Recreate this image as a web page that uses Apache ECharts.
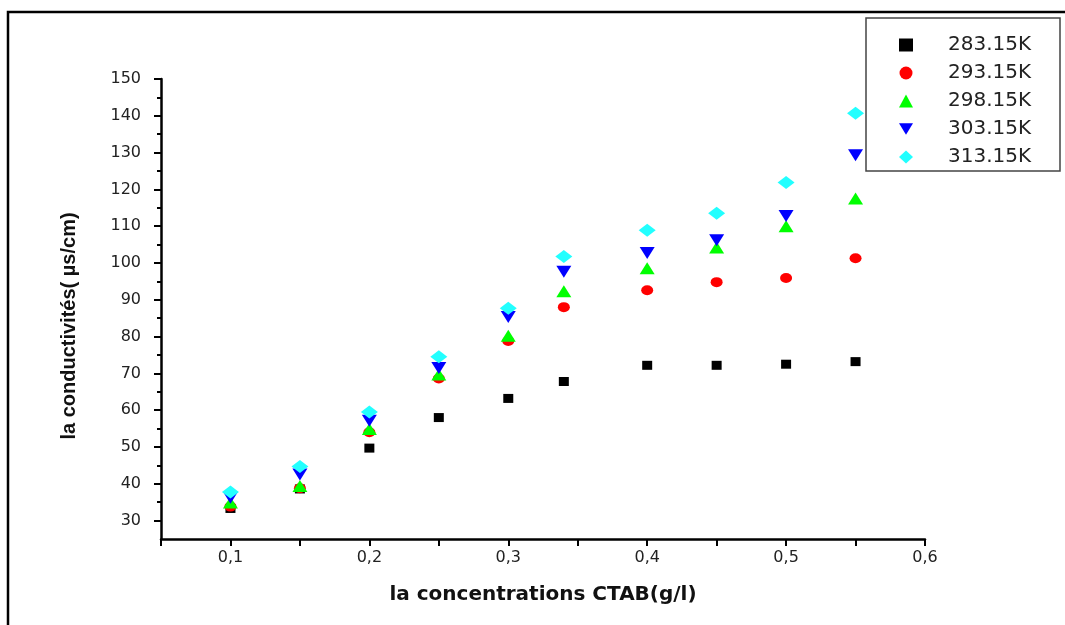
<!DOCTYPE html>
<html>
<head>
<meta charset="utf-8">
<script src="https://cdn.jsdelivr.net/npm/echarts@6/dist/echarts.min.js"></script>
<style>
  html, body { margin: 0; padding: 0; background: #fff; }
  #chart { width: 1065px; height: 625px; }
</style>
</head>
<body>
<div id="chart"></div>
<script>
// concentration CTAB (g/l)
const concentrations = [0.1, 0.15, 0.2, 0.25, 0.3, 0.34, 0.4, 0.45, 0.5, 0.55]
// conductivity (µs/cm) per temperature
const k283 = [33.3, 38.6, 49.7, 58.0, 63.2, 67.8, 72.2, 72.2, 72.5, 73.2]
const k293 = [33.8, 38.8, 54.0, 68.6, 78.8, 88.0, 92.6, 94.8, 95.9, 101.3]
const k298 = [34.9, 39.4, 54.9, 69.7, 80.2, 92.3, 98.6, 104.2, 110.0, 117.5]
const k303 = [36.2, 42.5, 57.1, 71.5, 85.3, 97.6, 102.7, 106.2, 112.8, 129.3]
const k313 = [37.8, 44.7, 59.5, 74.5, 87.7, 101.8, 108.9, 113.5, 121.9, 140.7]
const seriesNames = ['283.15K', '293.15K', '298.15K', '303.15K', '313.15K']

// tick labels
const xTicks = [0.05, 0.1, 0.15, 0.2, 0.25, 0.3, 0.35, 0.4, 0.45, 0.5, 0.55, 0.6]
const xLabels = [0.1, 0.2, 0.3, 0.4, 0.5, 0.6]
const yLabels = [30, 40, 50, 60, 70, 80, 90, 100, 110, 120, 130, 140, 150]
const yMinorTicks = [35, 45, 55, 65, 75, 85, 95, 105, 115, 125, 135, 145]

const pairs = vals => concentrations.map((c, i) => [c, vals[i]])

const chart = echarts.init(document.getElementById('chart'), null, { renderer: 'canvas' })

const labelFont = { fontFamily: 'DejaVu Sans', fontSize: 16, color: '#222' }

// inverted triangle for the legend of 303.15K
const downTriangle = 'path://M0,0 L12,0 L6,10 Z'

chart.setOption({
  backgroundColor: '#fff',
  animation: false,
  grid: { left: 161, right: 140, top: 79, bottom: 86 },
  graphic: [
    { type: 'rect', z: -10, shape: { x: 8, y: 12, width: 1200, height: 800 },
      style: { fill: 'none', stroke: '#000', lineWidth: 2.5 } },
    { type: 'rect', z: -10, shape: { x: 866, y: 18, width: 194, height: 153 },
      style: { fill: '#fff', stroke: '#444', lineWidth: 1.5 } }
  ],
  legend: {
    orient: 'vertical',
    left: 899,
    top: 35,
    padding: 0,
    itemWidth: 14,
    itemHeight: 13,
    itemGap: 8,
    symbolKeepAspect: true,
    textStyle: { fontFamily: 'DejaVu Sans', fontSize: 20, color: '#222', padding: [0, 0, 0, 30] },
    data: seriesNames.map((n, i) => (i === 3 ? { name: n, icon: downTriangle } : { name: n }))
  },
  xAxis: {
    type: 'value',
    min: 0.05,
    max: 0.6,
    name: 'la concentrations CTAB(g/l)',
    nameLocation: 'middle',
    nameGap: 46,
    nameTextStyle: { fontFamily: 'DejaVu Sans', fontWeight: 'bold', fontSize: 20, color: '#111' },
    axisLine: { lineStyle: { color: '#000', width: 2.5 } },
    axisTick: { customValues: xTicks, length: 7, lineStyle: { color: '#000', width: 2 } },
    axisLabel: {
      customValues: xLabels,
      margin: 11,
      ...labelFont,
      formatter: v => v.toFixed(1).replace('.', ',')
    },
    splitLine: { show: false }
  },
  yAxis: [
    {
      type: 'value',
      min: 25,
      max: 150,
      name: 'la conductivités( µs/cm)',
      nameLocation: 'middle',
      nameRotate: 90,
      nameGap: 82,
      nameTextStyle: {
        fontFamily: 'Liberation Sans', fontWeight: 'bold', fontSize: 20, color: '#111',
        padding: [0, 34, 0, 0]
      },
      axisLine: { lineStyle: { color: '#000', width: 2.5 } },
      axisTick: { customValues: yLabels, length: 7, lineStyle: { color: '#000', width: 2 } },
      axisLabel: { customValues: yLabels, margin: 20, ...labelFont },
      splitLine: { show: false }
    },
    {
      type: 'value',
      min: 25,
      max: 150,
      position: 'left',
      axisLine: { show: false },
      axisTick: { show: true, customValues: yMinorTicks, length: 4, lineStyle: { color: '#000', width: 2 } },
      axisLabel: { show: false },
      splitLine: { show: false }
    }
  ],
  series: [
    { name: seriesNames[0], type: 'scatter', symbol: 'rect', symbolSize: [10, 9],
      itemStyle: { color: '#000', opacity: 1 }, data: pairs(k283) },
    { name: seriesNames[1], type: 'scatter', symbol: 'circle', symbolSize: [12, 10],
      itemStyle: { color: '#f00', opacity: 1 }, data: pairs(k293) },
    { name: seriesNames[2], type: 'scatter', symbol: 'triangle', symbolSize: [15, 12],
      itemStyle: { color: '#0f0', opacity: 1 }, data: pairs(k298) },
    { name: seriesNames[3], type: 'scatter', symbol: 'triangle', symbolRotate: 180, symbolSize: [15, 12],
      itemStyle: { color: '#00f', opacity: 1 }, data: pairs(k303) },
    { name: seriesNames[4], type: 'scatter', symbol: 'diamond', symbolSize: [17, 13],
      itemStyle: { color: '#2ff', opacity: 1 }, data: pairs(k313) }
  ]
})
</script>
</body>
</html>
